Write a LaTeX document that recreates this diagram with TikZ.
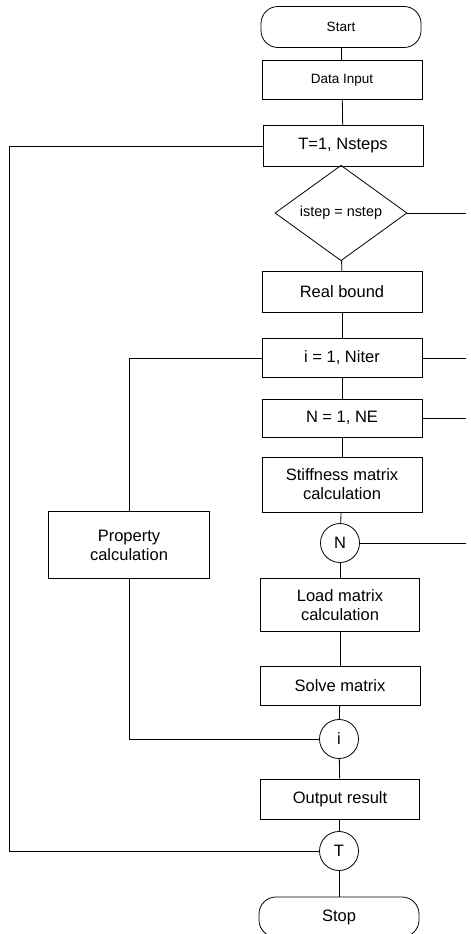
\documentclass[tikz,border=0pt]{standalone}
\usepackage{fontspec}
\setmainfont{Liberation Sans}
\usetikzlibrary{shapes.geometric}
\begin{document}
\begin{tikzpicture}[x=1pt,y=1pt,line width=0.8pt,
  box/.style={draw,rectangle,inner sep=0pt,minimum width=160pt,font=\fontsize{16.5}{19}\selectfont,align=center},
  term/.style={draw,rectangle,rounded corners=17pt,inner sep=0pt,minimum width=160pt,minimum height=40pt},
  conn/.style={draw,circle,inner sep=0pt,minimum size=39pt,font=\fontsize{16.5}{19}\selectfont},
  dec/.style={draw,diamond,inner sep=0pt,minimum width=132pt,minimum height=66pt,font=\fontsize{14.4}{17}\selectfont},
  ln/.style={draw,line width=0.8pt}]
\useasboundingbox (0,0) rectangle (471,-934);
\node[term,font=\fontsize{13.5}{16}\selectfont,minimum height=41pt] (start) at (341,-27) {Start};
\node[box,font=\fontsize{13.5}{16}\selectfont,minimum height=39pt] (data) at (342,-80) {Data Input};
\node[box,minimum height=41pt] (tloop) at (343,-146) {T=1, Nsteps};
\node[dec] (dia) at (341,-213) {istep = nstep};
\node[box,minimum height=41pt] (real) at (342,-292) {Real bound};
\node[box,minimum height=39pt] (iter) at (342,-358) {i = 1, Niter};
\node[box,minimum height=38pt] (ne) at (342,-418) {N = 1, NE};
\node[box,minimum height=55pt] (stiff) at (342,-484.5) {Stiffness matrix\\calculation};
\node[conn] (nc) at (340,-543) {N};
\node[box,minimum width=159pt,minimum height=53pt] (load) at (340,-605) {Load matrix\\calculation};
\node[box,minimum height=39pt] (solve) at (340,-686) {Solve matrix};
\node[conn] (ic) at (339,-739) {i};
\node[box,minimum width=159pt,minimum height=40pt] (out) at (340,-799) {Output result};
\node[conn] (tc) at (339,-851) {T};
\node[term,font=\fontsize{16.5}{19}\selectfont] (stop) at (339,-917) {Stop};
\node[box,minimum width=161pt,minimum height=67pt] (prop) at (129,-545) {Property\\calculation};
\coordinate (r1) at (466,-213);
\coordinate (r2) at (466,-358);
\coordinate (r3) at (466,-418);
\coordinate (r4) at (466,-543);
\coordinate (l1) at (9,-146);
\coordinate (l2) at (9,-851);
\coordinate (p1) at (129,-358);
\coordinate (p2) at (129,-739);
\draw (start) -- (data);
\draw (data) -- (tloop);
\draw (tloop) -- (dia);
\draw (dia) -- (real);
\draw (real) -- (iter);
\draw (iter) -- (ne);
\draw (ne) -- (stiff);
\draw (stiff) -- (nc);
\draw (nc) -- (load);
\draw (load) -- (solve);
\draw (solve) -- (ic);
\draw (ic) -- (out);
\draw (out) -- (tc);
\draw (tc) -- (stop);
\draw (dia.east) -- (r1);
\draw (iter.east) -- (r2);
\draw (ne.east) -- (r3);
\draw (nc.east) -- (r4);
\draw (tloop.west) -- (l1) -- (l2) -- (tc.west);
\draw (iter.west) -- (p1) -- (prop.north);
\draw (prop.south) -- (p2) -- (ic.west);
\end{tikzpicture}
\end{document}
